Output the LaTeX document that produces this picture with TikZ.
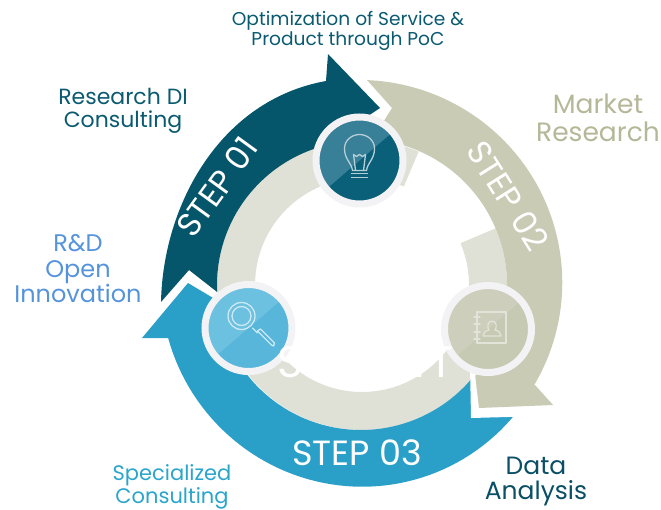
\documentclass[tikz,border=0pt]{standalone}
\usepackage{fontspec}
\setmainfont{Poppins}
\definecolor{cDark}{HTML}{06566B}
\definecolor{cSand}{HTML}{C9CBB5}
\definecolor{cBlue}{HTML}{2AA0C8}
\definecolor{cRing}{HTML}{E0E1D6}
\definecolor{cHalo}{HTML}{F3F3F5}
\definecolor{tTeal}{HTML}{0A5A70}
\definecolor{tSand}{HTML}{B5B898}
\definecolor{tSky}{HTML}{5593DC}
\definecolor{tBlue}{HTML}{2AA5CC}
\definecolor{tNavy}{HTML}{0A4F66}
\definecolor{bulbD}{HTML}{0B6079}
\definecolor{bulbL}{HTML}{387F98}
\definecolor{lensD}{HTML}{58B6DB}
\definecolor{lensL}{HTML}{6CC0E0}
\definecolor{bookD}{HTML}{C7CAB3}
\definecolor{bookL}{HTML}{CDCFBC}
\tikzset{
  ball/.style n args={2}{circle,inner sep=0pt,minimum size=87pt,line width=7pt,draw=cHalo,fill=#1,
    path picture={\fill[#2] ([shift={(-50,43)}]path picture bounding box.center) -- ([shift={(50,-43)}]path picture bounding box.center) -- ([shift={(-50,-50)}]path picture bounding box.center) -- cycle;}},
  label1/.style={align=center,inner sep=0pt,text=#1},
  steptext/.style={text=white,inner sep=0pt,font=\fontsize{#1}{#1}\selectfont},
}
\begin{document}
\begin{tikzpicture}[x=1pt,y=-1pt]
\useasboundingbox (0,0) rectangle (661,509);
% centre ring
\fill[cRing] plot[domain=67:383,samples=90] ({362+145*cos(\x)},{285-145*sin(\x)})
  -- plot[domain=383:67,samples=90] ({362+107*cos(\x)},{285-107*sin(\x)}) -- cycle;
% step 03
\fill[cBlue] (188,283) -- (142,338) -- (168,338)
  -- plot[domain=195.4:325,samples=60] ({361+200*cos(\x)},{285-(200+3*(\x-195)/130)*sin(\x)})
  -- plot[domain=325:186,samples=60] ({361+145*cos(\x)},{285-145*sin(\x)}) -- cycle;
% white band round the head of step 02
\fill[white] (470,365) -- (471,418) -- (545,416) -- (560,405) -- (500,380) -- (479,365) -- cycle;
% step 01
\fill[cDark] (161,302) .. controls (163,205) and (220,100) .. (326,81)
  -- (328,54) -- (380,108) -- (322,147)
  -- plot[domain=105.8:182.8,samples=50] ({361+144*cos(\x)},{285-144*sin(\x)})
  -- (189,270) -- cycle;
% step 02
\fill[cSand] (367,80) -- (392,108) -- (372,140)
  -- plot[domain=85:-38.5,samples=70] ({361+146*cos(\x)},{285-146*sin(\x)})
  -- (479,408) -- (553,405) -- (535,385)
  -- plot[domain=-30:88.3,samples=70] ({361+(200+5*(\x+30)/118)*cos(\x)},{285-(200+5*(\x+30)/118)*sin(\x)}) -- cycle;
% icon discs
\node[ball={bulbD}{bulbL}] (bulb) at (359.5,160.5) {};
\node[ball={lensD}{lensL}] (lens) at (248.5,328) {};
\node[ball={bookD}{bookL}] (book) at (488,329) {};
% bulb icon
\begin{scope}[shift={(bulb.center)},draw=white!70!bulbD,line width=1.3pt,line cap=round,line join=round]
\draw (-7,10) .. controls (-8,2) and (-15,-1) .. (-15,-12) .. controls (-15,-20) and (-8,-26) .. (0,-26)
  .. controls (8,-26) and (15,-20) .. (15,-12) .. controls (15,-1) and (8,2) .. (7,10) -- cycle;
\draw (-4,10) -- (-6,-6) -- (-3,-4) -- (0,-6) -- (3,-4) -- (6,-6) -- (4,10);
\draw (-8,13) -- (8,13) (-8,17) -- (8,17);
\end{scope}
% lens icon
\begin{scope}[shift={(lens.center)},draw=white!70!lensD,line width=1.3pt,line cap=round,line join=round]
\draw (-7,-12) circle[radius=13.5];
\draw (-7,-12) circle[radius=9.5];
\draw (4,0) -- (9,5);
\draw (9,3) -- (23,17) -- (25,18) -- (26,15) -- (12,1) -- cycle;
\end{scope}
% book icon
\begin{scope}[shift={(book.center)},draw=white!50!bookD,line width=1.2pt,line cap=round,line join=round]
\draw (-11,-17) rectangle (18,14);
\draw (-14,-12) -- (-8,-12) (-14,-5) -- (-8,-5) (-14,3) -- (-8,3) (-14,10) -- (-8,10);
\draw (-11,-17) -- (-11,14);
\draw (4,-8) .. controls (-1,-8) and (-1,-1) .. (1,1) .. controls (-3,2) and (-5,4) .. (-5,7) -- (13,7) .. controls (13,4) and (11,2) .. (7,1) .. controls (9,-1) and (9,-8) .. (4,-8);
\end{scope}
% step labels
\node[steptext=33,rotate=54] (s1) at (217,187) {STEP 01};
\node[steptext=33,rotate=-58] (s2) at (508,196) {STEP 02};
\node[steptext=35] (s3) at (357,453) {STEP 03};
% fragments of white lettering that show only over the ring and the discs
\node[steptext=44] (f1) at (290,362.5) {S};
\node[steptext=44] (f2) at (420,362.5) {I};
\node[steptext=44] (f3) at (441,362.5) {T};
% outer labels
\node[label1=tTeal,font=\fontsize{18.6}{20}\selectfont] (t1) at (348,31) {Optimization of Service \&\\Product through PoC};
\node[label1=tTeal,font=\fontsize{22}{23}\selectfont] (t2) at (123,111) {Research DI\\Consulting};
\node[label1=tSand,font=\fontsize{26.5}{28}\selectfont] (t3) at (598,118) {Market\\Research};
\node[label1=tSky,font=\fontsize{24}{25.5}\selectfont] (t4) at (78,269) {R\&D\\Open\\Innovation};
\node[label1=tBlue,font=\fontsize{21}{23}\selectfont] (t5) at (172,486.5) {Specialized\\Consulting};
\node[label1=tNavy,font=\fontsize{25}{25}\selectfont] (t6) at (536,481.5) {Data\\Analysis};
\end{tikzpicture}
\end{document}
